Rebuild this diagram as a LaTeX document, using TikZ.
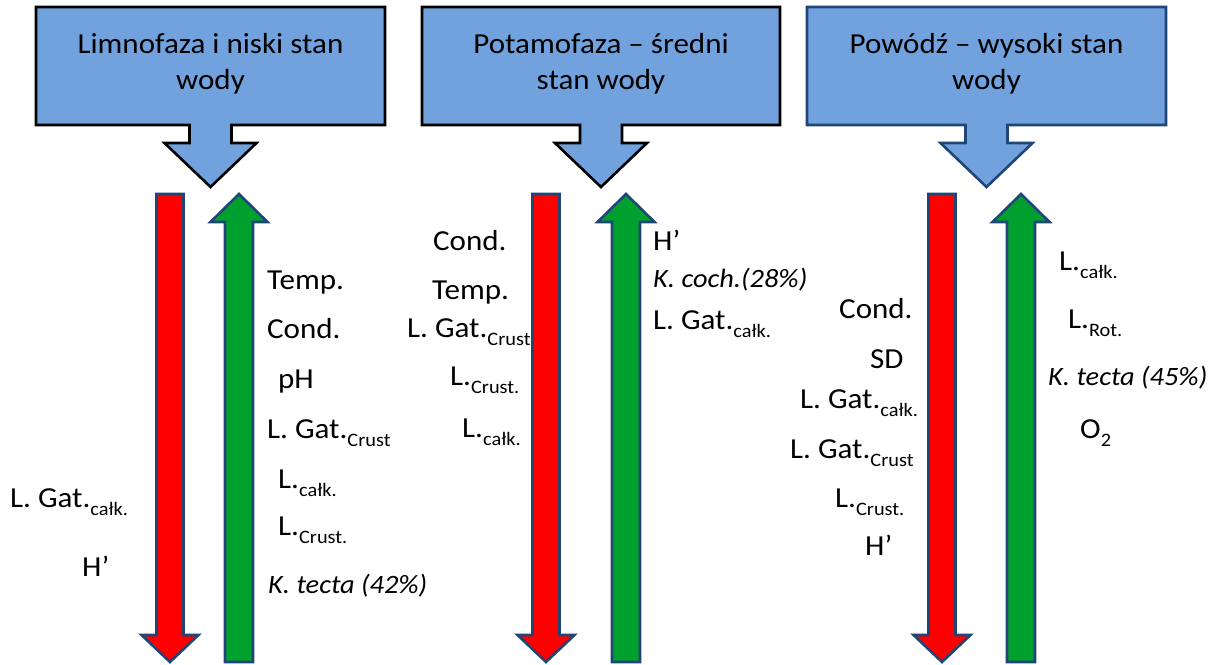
\documentclass[tikz,border=0pt]{standalone}
\usepackage{fontspec}
\setmainfont[FakeStretch=1.07]{Carlito}
\newcommand\lsub[1]{\raisebox{-0.3em}{\fontsize{19}{19}\selectfont #1}}
\definecolor{callfill}{HTML}{71A2DD}
\definecolor{navy}{HTML}{1F4677}
\definecolor{arred}{HTML}{FF0000}
\definecolor{argreen}{HTML}{00A02F}
\tikzset{
  callout/.style={fill=callfill,line width=2.6pt,line join=miter},
  arr/.style={draw=navy,line width=2.6pt,line join=miter},
  lbl/.style={anchor=base west,inner sep=0pt,font=\fontsize{29}{34}\selectfont},
  ilbl/.style={lbl,font=\fontsize{26.5}{32}\selectfont\itshape},
  ttl/.style={align=center,inner sep=0pt,font=\fontsize{29}{36}\selectfont},
}
\begin{document}
\begin{tikzpicture}[x=1pt,y=-1pt]
\useasboundingbox (0,0) rectangle (1210,664);
% callouts
\foreach \cx/\hw/\col in {210.5/174.5/black, 601/179/black, 986.5/179.5/navy}{
  \draw[callout,draw=\col] (\cx-\hw,7) -- (\cx+\hw,7) -- (\cx+\hw,125) -- (\cx+21,125) -- (\cx+21,143)
    -- (\cx+46,143) -- (\cx,187) -- (\cx-46,143) -- (\cx-21,143) -- (\cx-21,125) -- (\cx-\hw,125) -- cycle;
}
\node[ttl] (t1) at (210.5,64) {Limnofaza i niski stan\\wody};
\node[ttl] (t2) at (601,64) {Potamofaza – średni\\stan wody};
\node[ttl] (t3) at (986.5,64) {Powódź – wysoki stan\\wody};
% red down arrows
\foreach \cx in {170,546,942}{
  \draw[arr,fill=arred] (\cx-13.5,194) -- (\cx+13.5,194) -- (\cx+13.5,635) -- (\cx+28.5,635) -- (\cx,662)
    -- (\cx-28.5,635) -- (\cx-13.5,635) -- cycle;
}
% green up arrows
\foreach \cx in {239,626,1021}{
  \draw[arr,fill=argreen] (\cx-14,662) -- (\cx+14,662) -- (\cx+14,222) -- (\cx+28.5,222) -- (\cx,194)
    -- (\cx-28.5,222) -- (\cx-14,222) -- cycle;
}
% panel 1
\node[lbl] (a1) at (267,289) {Temp.};
\node[lbl] (a2) at (267,338) {Cond.};
\node[lbl] (a3) at (278,388) {pH};
\node[lbl] (a4) at (267,438) {L. Gat.\lsub{Crust}};
\node[lbl] (a5) at (278,488) {L.\lsub{całk.}};
\node[lbl] (a6) at (278,535) {L.\lsub{Crust.}};
\node[ilbl] (a7) at (268,593) {K. tecta (42\%)};
\node[lbl] (b1) at (10,507) {L. Gat.\lsub{całk.}};
\node[lbl] (b2) at (82,576) {H’};
% panel 2
\node[lbl] (c1) at (433,250) {Cond.};
\node[lbl] (c2) at (432,299) {Temp.};
\node[lbl] (c3) at (407,337) {L. Gat.\lsub{Crust}};
\node[lbl] (c4) at (450,385) {L.\lsub{Crust.}};
\node[lbl] (c5) at (462,437) {L.\lsub{całk.}};
\node[lbl] (d1) at (653,250) {H’};
\node[ilbl] (d2) at (653,287) {K. coch.(28\%)};
\node[lbl] (d3) at (653,329) {L. Gat.\lsub{całk.}};
% panel 3
\node[lbl] (e1) at (839,318) {Cond.};
\node[lbl] (e2) at (870,368) {SD};
\node[lbl] (e3) at (800,408) {L. Gat.\lsub{całk.}};
\node[lbl] (e4) at (790,458) {L. Gat.\lsub{Crust}};
\node[lbl] (e5) at (835,507) {L.\lsub{Crust.}};
\node[lbl] (e6) at (865,555) {H’};
\node[lbl] (f1) at (1059,270) {L.\lsub{całk.}};
\node[lbl] (f2) at (1068,328) {L.\lsub{Rot.}};
\node[ilbl] (f3) at (1048,385) {K. tecta (45\%)};
\node[lbl] (f4) at (1080,438) {O\lsub{2}};
\end{tikzpicture}
\end{document}
